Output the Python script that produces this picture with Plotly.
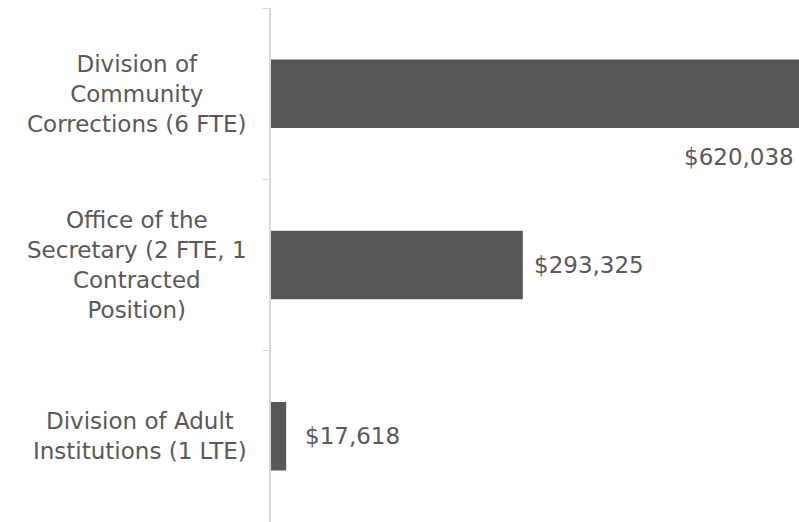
import plotly.graph_objects as go

categories = [
    "Division of<br>Community<br>Corrections (6 FTE)",
    "Office of the<br>Secretary (2 FTE, 1<br>Contracted<br>Position)",
    "Division of Adult<br>Institutions (1 LTE)",
]
values = [620038, 293325, 17618]
value_labels = ["$620,038", "$293,325", "$17,618"]

BAR = "#575757"
TEXT = "#595959"
FONT = "DejaVu Sans"
FS = 23
XMAX = 615000

fig = go.Figure(go.Bar(
    x=values, y=categories, orientation="h",
    marker=dict(color=BAR, line=dict(width=0)),
    hoverinfo="skip",
))

ann = []
for c in categories:
    ann.append(dict(x=0, xref="paper", y=c, yref="y", text=c, showarrow=False,
                    xanchor="right", yanchor="middle", align="center", xshift=-22,
                    font=dict(family=FONT, size=FS, color=TEXT)))
for c, v, t in zip(categories, values, value_labels):
    if v > XMAX * 0.8:
        ann.append(dict(x=min(v, XMAX), y=c, xref="x", yref="y", text=t, showarrow=False,
                        xanchor="right", yanchor="middle", xshift=-3, yshift=-63,
                        font=dict(family=FONT, size=FS, color=TEXT)))
    else:
        ann.append(dict(x=v, y=c, xref="x", yref="y", text=t, showarrow=False,
                        xanchor="center", yanchor="middle", xshift=66,
                        font=dict(family=FONT, size=FS, color=TEXT)))

fig.update_layout(
    width=799, height=522,
    margin=dict(l=271, r=0, t=8, b=0),
    paper_bgcolor="white", plot_bgcolor="white",
    bargap=0.6, showlegend=False,
    annotations=ann,
    xaxis=dict(range=[0, XMAX], visible=False, showgrid=False, zeroline=False),
    yaxis=dict(autorange="reversed", showticklabels=False, showgrid=False, zeroline=False,
               showline=True, linecolor="#d9d9d9", linewidth=2,
               ticks="outside", tickson="boundaries", ticklen=7, tickcolor="#d9d9d9", tickwidth=1),
)
fig.write_html("out.html", config={"displayModeBar": False},
               post_script="document.body.style.margin='0';document.body.style.overflow='hidden';")
